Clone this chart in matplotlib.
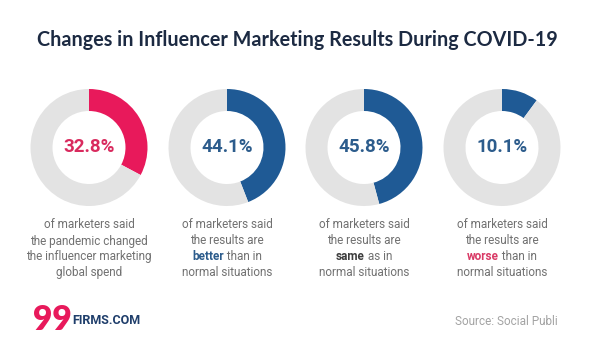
import matplotlib
matplotlib.use("Agg")
import matplotlib.pyplot as plt

# ---- data ----
values = [32.8, 44.1, 45.8, 10.1]
ring_colors = ["#E8195B", "#1F5A95", "#1F5A95", "#1F5A95"]
label_colors = ["#D92A5E", "#2C5C8C", "#2C5C8C", "#2C5C8C"]
captions = [
    ["of marketers said", "the pandemic changed", "the influencer marketing", "global spend"],
    ["of marketers said", "the results are", "|better| than in", "normal situations"],
    ["of marketers said", "the results are", "|same| as in", "normal situations"],
    ["of marketers said", "the results are", "|worse| than in", "normal situations"],
]
highlight_colors = [None, "#2C5C8C", "#3D3D3D", "#D93A66"]
title = "Changes in Influencer Marketing Results During COVID-19"
source = "Source: Social Publi"

# ---- layout (pixels, y measured from top) ----
W, H = 600, 344
centers_x = [89, 227, 364, 502]
center_y = 147.5
r_out, ring_w = 58.5, 22
line_ys = [225, 241, 256.7, 272.3]
GRAY_RING = "#E3E3E3"
CAPTION = "#717171"


def Y(y):
    return H - y


fig = plt.figure(figsize=(6, 3.44), dpi=100)
ax = fig.add_axes([0, 0, 1, 1])

for cx, v, rc, lc in zip(centers_x, values, ring_colors, label_colors):
    ax.pie([v, 100 - v], colors=[rc, GRAY_RING], center=(cx, Y(center_y)),
           radius=r_out, startangle=90, counterclock=False,
           wedgeprops=dict(width=ring_w, edgecolor="none", linewidth=0))
    ax.text(cx, Y(center_y), f"{v}%", ha="center", va="center",
            fontsize=13.5, fontweight="bold", color=lc, family="Roboto")

ax.set_xlim(0, W)
ax.set_ylim(0, H)
ax.set_aspect("auto")
ax.axis("off")

renderer = fig.canvas.get_renderer()
cap_kw = dict(fontsize=8.5, family="Roboto", va="center")

for cx, lines, hc in zip(centers_x, captions, highlight_colors):
    for ly, line in zip(line_ys, lines):
        if "|" not in line:
            ax.text(cx, Y(ly), line, ha="center", color=CAPTION, **cap_kw)
            continue
        _, word, rest = line.split("|")
        t1 = ax.text(0, Y(ly), word, ha="left", color=hc, fontweight="bold", **cap_kw)
        t2 = ax.text(0, Y(ly), rest, ha="left", color=CAPTION, **cap_kw)
        w1 = t1.get_window_extent(renderer).width
        w2 = t2.get_window_extent(renderer).width
        start = cx - (w1 + w2) / 2
        t1.set_x(start)
        t2.set_x(start + w1)

ax.text(297.7, Y(45.7), title, ha="center", va="baseline", fontsize=14.2,
        fontweight="bold", color="#1C2A42", family="Lato")

# logo
ax.text(33, Y(320), "99", ha="left", va="center", fontsize=24,
        fontweight="heavy", color="#E8195B", family="Lato")
ax.text(72.5, Y(320.7), "FIRMS.COM", ha="left", va="center", fontsize=9,
        fontweight="bold", color="#1F3E6B", family="Roboto")

ax.text(558, Y(321.7), source, ha="right", va="center", fontsize=8.5,
        color="#A3A3A3", family="Roboto")

fig.savefig("out.png", dpi=100, facecolor="white")
